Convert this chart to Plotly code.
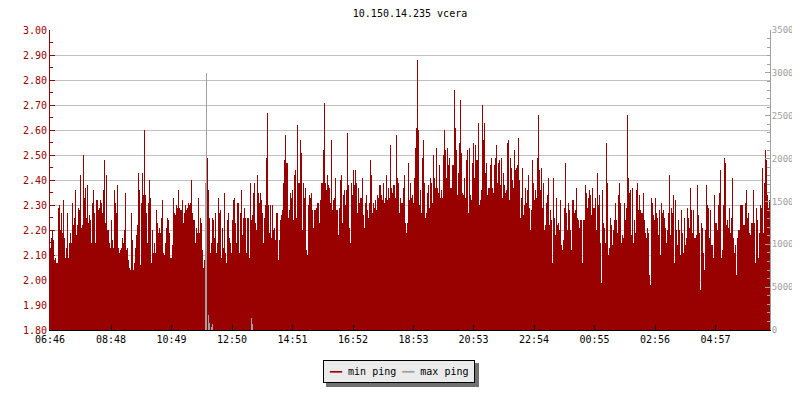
import plotly.graph_objects as go

title_text = "10.150.14.235 vcera"

# x-axis tick labels (time of day); one sample per 2 minutes starting 06:46
tick_labels = ["06:46", "08:48", "10:49", "12:50", "14:51", "16:52",
               "18:53", "20:53", "22:54", "00:55", "02:56", "04:57"]
start_label = "06:46"
sample_minutes = 2

# min ping values (left axis), one per sample
min_ping = [
    2.13, 2.17, 2.20, 2.16, 2.08, 2.09, 2.07, 2.07,
    2.29, 2.30, 2.20, 2.27, 2.19, 2.32, 2.17, 2.09, 2.13, 2.27,
    2.09, 2.15, 2.19, 2.15, 2.31, 2.22, 2.25, 2.36, 2.18, 2.22,
    2.29, 2.28, 2.42, 2.21, 2.22, 2.50, 2.33, 2.37, 2.25, 2.38,
    2.23, 2.26, 2.24, 2.15, 2.31, 2.36, 2.27, 2.15, 2.32, 2.32,
    2.28, 2.29, 2.32, 2.31, 2.27, 2.36, 2.48, 2.23, 2.42, 2.20,
    2.20, 2.15, 2.13, 2.24, 2.16, 2.13, 2.36, 2.31, 2.27, 2.38,
    2.13, 2.11, 2.12, 2.13, 2.17, 2.15, 2.20, 2.35, 2.12, 2.13,
    2.08, 2.05, 2.04, 2.27, 2.16, 2.04, 2.07, 2.13, 2.18, 2.22,
    2.43, 2.36, 2.06, 2.31, 2.43, 2.34, 2.60, 2.34, 2.27, 2.15,
    2.31, 2.40, 2.33, 2.07, 2.20, 2.11, 2.15, 2.11, 2.28, 2.23,
    2.19, 2.21, 2.19, 2.25, 2.32, 2.11, 2.10, 2.15, 2.21, 2.25,
    2.24, 2.19, 2.09, 2.09, 2.14, 2.33, 2.27, 2.26, 2.30, 2.29,
    2.36, 2.29, 2.28, 2.28, 2.32, 2.23, 2.27, 2.30, 2.28, 2.29,
    2.31, 2.30, 2.31, 2.40, 2.27, 2.24, 2.24, 2.15, 2.21, 2.19,
    2.33, 2.19, 2.25, 2.23, 2.12, 2.05, 2.08,
    2.07, 2.07,
    2.49, 2.36, 2.25, 2.11, 2.15, 2.25, 2.24, 2.17, 2.27, 2.11,
    2.15, 2.33, 2.27, 2.28, 2.09, 2.21, 2.13, 2.35, 2.11, 2.07,
    2.24, 2.27, 2.17, 2.15, 2.11, 2.24, 2.32, 2.33, 2.23, 2.15,
    2.31, 2.31, 2.11, 2.27, 2.36, 2.18, 2.25, 2.29, 2.25, 2.11,
    2.25, 2.25, 2.09, 2.39, 2.24, 2.26, 2.35, 2.39, 2.23, 2.20,
    2.42, 2.35, 2.31, 2.35, 2.32, 2.27, 2.15, 2.25, 2.30, 2.49,
    2.67, 2.30, 2.19, 2.30, 2.17, 2.30, 2.20, 2.21, 2.16, 2.27,
    2.27, 2.08, 2.16, 2.24, 2.26, 2.28, 2.39, 2.48, 2.58, 2.47,
    2.47, 2.25, 2.28, 2.35, 2.33, 2.36, 2.24, 2.42, 2.44, 2.25,
    2.62, 2.39, 2.39, 2.56, 2.51, 2.20, 2.39, 2.33, 2.37, 2.12,
    2.10, 2.30, 2.34, 2.33, 2.35, 2.28, 2.21, 2.28, 2.28, 2.29,
    2.31, 2.31, 2.23, 2.32, 2.39, 2.39, 2.52, 2.71, 2.39, 2.36,
    2.42, 2.38, 2.37, 2.31, 2.56, 2.28, 2.32, 2.33, 2.41, 2.28,
    2.28, 2.18, 2.29, 2.40, 2.42, 2.23, 2.34, 2.36, 2.30, 2.36,
    2.59, 2.38, 2.21, 2.15, 2.39, 2.34, 2.44, 2.38, 2.44, 2.39,
    2.27, 2.37, 2.31, 2.33, 2.33, 2.41, 2.26, 2.21, 2.31, 2.34,
    2.28, 2.25, 2.31, 2.48, 2.42, 2.27, 2.31, 2.29, 2.32, 2.28,
    2.34, 2.33, 2.38, 2.38, 2.34, 2.32, 2.39, 2.31, 2.33, 2.42,
    2.32, 2.37, 2.33, 2.54, 2.37, 2.35, 2.38, 2.38, 2.33, 2.58,
    2.41, 2.39, 2.27, 2.33, 2.31, 2.31, 2.37, 2.42, 2.23, 2.19,
    2.23, 2.47, 2.32,
    2.39, 2.33, 2.34, 2.31, 2.41, 2.53, 2.61, 2.88, 2.60, 2.30,
    2.36, 2.27, 2.49, 2.56, 2.39, 2.25, 2.27, 2.35, 2.38, 2.29,
    2.41, 2.39, 2.31, 2.50, 2.41, 2.37, 2.53, 2.37, 2.35, 2.46,
    2.33, 2.36, 2.33, 2.50, 2.60, 2.52, 2.41, 2.53, 2.46, 2.49,
    2.37, 2.37, 2.46, 2.46, 2.76, 2.61, 2.52, 2.34, 2.43, 2.55,
    2.72, 2.51, 2.35, 2.34, 2.41, 2.33, 2.48, 2.52, 2.27, 2.53,
    2.34, 2.32, 2.47, 2.55, 2.41, 2.54, 2.48, 2.48, 2.63, 2.30,
    2.32, 2.36, 2.70, 2.56, 2.63, 2.43, 2.47, 2.34, 2.37, 2.37,
    2.46, 2.49, 2.37, 2.35, 2.46, 2.49, 2.54, 2.39, 2.47, 2.48,
    2.38, 2.49, 2.33, 2.43, 2.38, 2.35, 2.36, 2.55, 2.56, 2.32,
    2.49, 2.45, 2.40, 2.37, 2.52, 2.44, 2.45, 2.46, 2.57, 2.40,
    2.25, 2.33, 2.45, 2.26, 2.30, 2.37, 2.31, 2.36, 2.42, 2.29,
    2.20, 2.28, 2.48, 2.39, 2.32, 2.36, 2.33, 2.49, 2.66, 2.44,
    2.36, 2.45, 2.29, 2.39, 2.20, 2.22, 2.31, 2.34, 2.41, 2.22,
    2.28, 2.24, 2.07, 2.41, 2.25, 2.18, 2.33, 2.22, 2.23, 2.20,
    2.32, 2.14, 2.12, 2.16, 2.29, 2.47, 2.27, 2.20, 2.31, 2.28,
    2.20, 2.12, 2.32, 2.32, 2.27, 2.28, 2.37, 2.25, 2.24, 2.21,
    2.24, 2.24, 2.07, 2.24, 2.24, 2.38, 2.35, 2.29, 2.33, 2.36,
    2.34, 2.26, 2.37, 2.29, 2.29, 2.33, 2.20, 2.43, 2.30, 2.34,
    2.15, 1.99, 2.36, 2.23, 2.21, 2.15, 2.55, 2.39, 2.10, 2.13,
    2.25, 2.22, 2.14, 2.20, 2.24, 2.31, 2.24, 2.19, 2.34, 2.39,
    2.31, 2.15, 2.18, 2.17, 2.31, 2.24, 2.29, 2.66, 2.41, 2.35,
    2.36, 2.18, 2.37, 2.15, 2.24, 2.19, 2.36, 2.39, 2.28, 2.34,
    2.28, 2.27, 2.27, 2.35, 2.24, 2.19, 2.17, 2.21, 2.19, 2.02,
    1.98, 2.33, 2.31, 2.26, 2.24, 2.33, 2.27, 2.25, 2.18, 2.28,
    2.10, 2.31, 2.27, 2.28, 2.25, 2.21, 2.15, 2.20, 2.27, 2.42,
    2.18, 2.29, 2.27, 2.34, 2.07, 2.32, 2.20, 2.14, 2.24, 2.20,
    2.10, 2.28, 2.19, 2.11, 2.25, 2.14, 2.17, 2.29, 2.25, 2.21,
    2.37, 2.28, 2.19, 2.28, 2.17, 2.17, 2.18, 2.38, 2.26, 2.19,
    1.96, 2.23, 2.21, 2.11, 2.04, 2.20, 2.38, 2.30, 2.29, 2.17,
    2.28, 2.14, 2.14, 2.09, 2.34, 2.23, 2.23, 2.20, 2.30, 2.35,
    2.44, 2.09, 2.12, 2.30, 2.49, 2.47, 2.22, 2.24, 2.21, 2.29,
    2.19, 2.25, 2.41, 2.17, 2.11, 2.14, 2.02, 2.17, 2.20, 2.20,
    2.30, 2.30, 2.30, 2.22, 2.22, 2.31, 2.36, 2.25, 2.27, 2.19,
    2.18, 2.23, 2.23, 2.36, 2.23, 2.07, 2.29, 2.24, 2.09, 2.19,
    2.30, 2.29, 2.45, 2.19, 2.39, 2.52, 2.48, 2.34, 2.29, 2.32,
]

# max ping (right axis): only the samples where it is visible above zero
max_ping_idx = [155, 156, 158, 159, 161, 162, 201, 202]
max_ping = [1715, 3000, 175, 78, 39, 70, 136, 70]

# right axis labels as printed on the chart
right_tickvals = [0, 500, 1000, 1500, 2000, 2500, 3000, 3500]
right_ticktext = ["0", "5000", "1000", "1500", "2000", "2500", "3000", "3500"]

RED = "#990000"
GREY = "#a0a0a0"
FONT = "DejaVu Sans Mono"

# the page body has an 8px default margin; size the figure so it fills the 800x400 window
BODY = 8
W, H = 800 - BODY, 400 - BODY

n = len(min_ping)
x_idx = list(range(n))


def label_pos(lbl):
    h, m = map(int, lbl.split(":"))
    sh, sm = map(int, start_label.split(":"))
    minutes = (h * 60 + m - (sh * 60 + sm)) % 1440
    return minutes / sample_minutes - 0.5


tickvals = [label_pos(t) for t in tick_labels]

fig = go.Figure()
fig.add_trace(go.Bar(x=x_idx, y=min_ping, width=1, marker=dict(color=RED, line=dict(width=0)),
                     name="min ping", showlegend=False, yaxis="y"))
fig.add_trace(go.Bar(x=max_ping_idx, y=max_ping, width=1, marker=dict(color=GREY, line=dict(width=0)),
                     name="max ping", showlegend=False, yaxis="y2"))

fig.update_layout(
    width=W, height=H, autosize=False,
    margin=dict(l=50 - BODY, r=30, t=30 - BODY, b=70),
    paper_bgcolor="white", plot_bgcolor="white",
    font=dict(family=FONT, size=10, color="black"),
    barmode="overlay", bargap=0,
    title=dict(text=title_text, x=0.5, xref="paper", xanchor="center",
               y=1 - (13 - BODY) / H, yref="container", yanchor="middle", automargin=False,
               font=dict(family=FONT, size=10, color="black")),
    xaxis=dict(range=[-0.5, n - 0.5], tickmode="array", tickvals=tickvals, ticktext=tick_labels,
               ticks="inside", ticklen=5, tickcolor="black", showline=True, linecolor="black",
               linewidth=1, showgrid=False, zeroline=False, automargin=False,
               tickfont=dict(family=FONT, size=10, color="black")),
    yaxis=dict(range=[1.8, 3.0], tick0=1.8, dtick=0.1, tickformat=".2f",
               ticks="inside", ticklen=5, tickcolor=RED, showline=True, linecolor=RED,
               linewidth=1, showgrid=True, gridcolor="#c0c0c0", gridwidth=1, zeroline=False,
               automargin=False,
               tickfont=dict(family=FONT, size=10, color=RED),
               minor=dict(tickmode="linear", tick0=1.8, dtick=0.05, ticks="inside", ticklen=3,
                          tickcolor=RED, showgrid=False)),
    yaxis2=dict(overlaying="y", side="right", range=[0, 3500], tickmode="array",
                tickvals=right_tickvals, ticktext=right_ticktext,
                ticks="inside", ticklen=5, tickcolor=GREY, showline=True, linecolor=GREY,
                linewidth=1, showgrid=False, zeroline=False, automargin=False,
                ticklabelstandoff=-1,
                tickfont=dict(family=FONT, size=9, color=GREY),
                minor=dict(tickmode="linear", tick0=0, dtick=100, ticks="inside", ticklen=3,
                           tickcolor=GREY, showgrid=False)),
)

# legend box (text-based) with drop shadow
fig.add_shape(type="rect", xref="paper", yref="paper",
              x0=(326 - 50) / 720, x1=(479 - 50) / 720,
              y0=(330 - 387) / 300, y1=(330 - 363) / 300,
              fillcolor="#707070", line=dict(width=0), layer="above")
legend_text = (f"<span style='color:{RED}'>━━</span> min ping "
               f"<span style='color:{GREY}'>━━</span> max ping")
fig.add_annotation(text=legend_text, xref="paper", yref="paper",
                   x=(399 - 50) / 720, y=(330 - 371) / 300, xanchor="center", yanchor="middle",
                   showarrow=False, bgcolor="#ebebeb", bordercolor="black", borderwidth=1,
                   borderpad=5, font=dict(family=FONT, size=10, color="black"))

fig.write_html("out.html")
